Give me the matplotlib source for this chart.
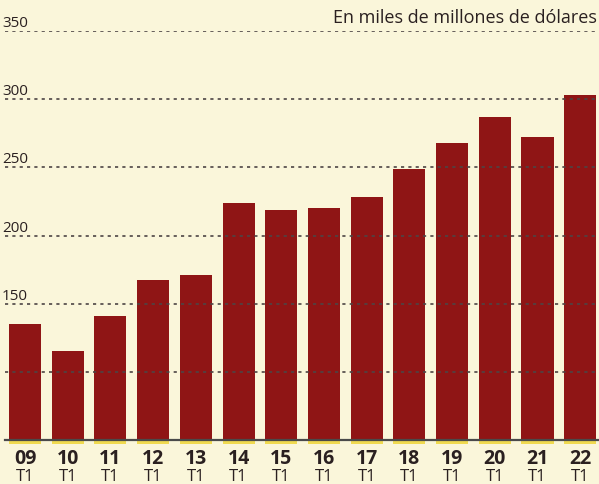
import matplotlib
matplotlib.use("Agg")
import matplotlib.pyplot as plt
import matplotlib.transforms as mtransforms

years = ["09", "10", "11", "12", "13", "14", "15", "16", "17", "18", "19", "20", "21", "22"]
quarter = "T1"
values = [135, 115, 141, 167, 171, 224, 219, 220, 228, 249, 268, 287, 272, 303]
grid_values = [100, 150, 200, 250, 300, 350]
grid_labels = ["", "150", "200", "250", "300", "350"]
title = "En miles de millones de dólares"

bg = "#faf6da"
bar_color = "#8f1515"
ink = "#2a2020"

W, H = 599, 485
fig = plt.figure(figsize=(W / 100, H / 100), dpi=100, facecolor=bg)
ax = fig.add_axes([5 / W, 1 - 441 / H, 594 / W, (441 - 32) / H])
ax.set_facecolor(bg)
ax.set_xlim(-0.468, 13.44)
ax.set_ylim(50, 350)
px = 300 / (441 - 32)  # data units per pixel

x = list(range(len(years)))
# yellow misregistration strip under each bar
ax.bar(x, [3 * px] * len(x), bottom=50 - 4 * px, width=0.75, color="#f0da50",
       zorder=1, clip_on=False)
ax.bar(x, [v - 50 for v in values], bottom=50, width=0.75, color=bar_color, zorder=2)

ylab_tr = mtransforms.blended_transform_factory(fig.transFigure, ax.transData)
for g, lab in zip(grid_values, grid_labels):
    ax.axhline(g, color="#4d4545", lw=1.2, ls=(0, (1.9, 2.5)), zorder=3)
    if lab:
        ax.text(2 / W, g + 5 * px, lab, fontsize=11, color=ink, ha="left", va="baseline",
                family="Open Sans", transform=ylab_tr, zorder=4)

ax.axhline(50, color="#4a4a4a", lw=1.6, zorder=4, clip_on=False)

for i, y in enumerate(years):
    ax.text(i, 50 - 23.5 * px, y, fontsize=14, fontweight="bold", color=ink, ha="center",
            va="baseline", family="Open Sans", clip_on=False)
    ax.text(i, 50 - 40.5 * px, quarter, fontsize=12, color=ink, ha="center", va="baseline",
            family=["Liberation Sans Narrow", "Open Sans"], clip_on=False)

fig.text(597 / W, 1 - 23 / H, title, fontsize=13, color=ink, ha="right", va="baseline",
         family="Open Sans")

for s in ax.spines.values():
    s.set_visible(False)
ax.set_xticks([])
ax.set_yticks([])

fig.savefig("out.png", dpi=100, facecolor=bg)
